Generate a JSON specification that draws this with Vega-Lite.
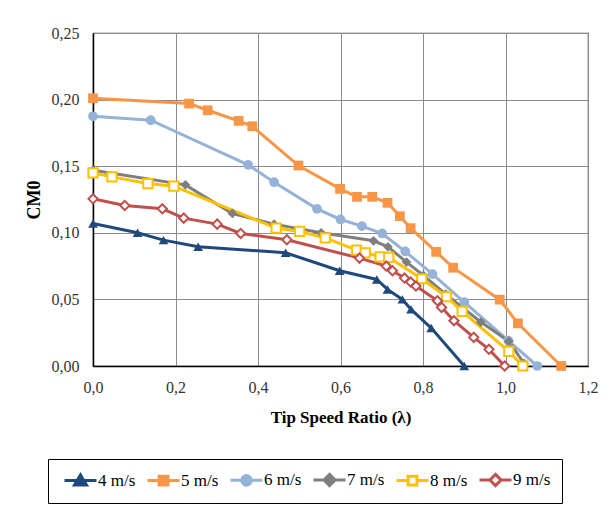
{
  "$schema": "https://vega.github.io/schema/vega-lite/v6.json",
  "width": 495,
  "height": 333,
  "autosize": {"type": "none"},
  "padding": {"left": 93, "top": 33, "right": 22, "bottom": 142},
  "background": "white",
  "config": {
    "view": {"stroke": "#555555", "strokeWidth": 1.2},
    "font": "Liberation Serif",
    "axis": {
      "labelFont": "Liberation Serif",
      "titleFont": "Liberation Serif",
      "labelFontSize": 16,
      "labelColor": "#333333",
      "titleFontSize": 17,
      "titleFontWeight": "bold",
      "titleColor": "#000000",
      "gridColor": "#8c8c8c",
      "gridWidth": 1,
      "ticks": false,
      "labelFlush": false,
      "domainColor": "#000000",
      "domainWidth": 1.5
    },
    "legend": {
      "title": null,
      "orient": "none",
      "legendX": -45,
      "legendY": 426,
      "direction": "horizontal",
      "columns": 6,
      "strokeColor": "#000000",
      "padding": 11,
      "symbolSize": 256,
      "symbolStrokeWidth": 3,
      "symbolOffset": 12,
      "labelFont": "Liberation Serif",
      "labelFontSize": 17,
      "labelColor": "#000000",
      "labelOffset": 8,
      "columnPadding": 5
    }
  },
  "resolve": {"scale": {"shape": "independent", "stroke": "independent", "fill": "independent"}},
  "data": {
    "values": [
      {"s": "4 m/s", "x": 0.0, "y": 0.107},
      {"s": "4 m/s", "x": 0.108, "y": 0.1},
      {"s": "4 m/s", "x": 0.171, "y": 0.0945},
      {"s": "4 m/s", "x": 0.255, "y": 0.0895},
      {"s": "4 m/s", "x": 0.467, "y": 0.085},
      {"s": "4 m/s", "x": 0.598, "y": 0.0715},
      {"s": "4 m/s", "x": 0.688, "y": 0.065},
      {"s": "4 m/s", "x": 0.714, "y": 0.0575},
      {"s": "4 m/s", "x": 0.75, "y": 0.05},
      {"s": "4 m/s", "x": 0.771, "y": 0.0425},
      {"s": "4 m/s", "x": 0.82, "y": 0.0285},
      {"s": "4 m/s", "x": 0.9, "y": 0.0},
      {"s": "5 m/s", "x": 0.0, "y": 0.201},
      {"s": "5 m/s", "x": 0.233, "y": 0.197},
      {"s": "5 m/s", "x": 0.278, "y": 0.192},
      {"s": "5 m/s", "x": 0.353, "y": 0.184},
      {"s": "5 m/s", "x": 0.386, "y": 0.18},
      {"s": "5 m/s", "x": 0.498, "y": 0.1505},
      {"s": "5 m/s", "x": 0.599, "y": 0.133},
      {"s": "5 m/s", "x": 0.64, "y": 0.127},
      {"s": "5 m/s", "x": 0.677, "y": 0.127},
      {"s": "5 m/s", "x": 0.714, "y": 0.1225},
      {"s": "5 m/s", "x": 0.744, "y": 0.1125},
      {"s": "5 m/s", "x": 0.77, "y": 0.1035},
      {"s": "5 m/s", "x": 0.832, "y": 0.0857},
      {"s": "5 m/s", "x": 0.873, "y": 0.0738},
      {"s": "5 m/s", "x": 0.986, "y": 0.0498},
      {"s": "5 m/s", "x": 1.03, "y": 0.032},
      {"s": "5 m/s", "x": 1.135, "y": 0.0},
      {"s": "6 m/s", "x": 0.0, "y": 0.1875},
      {"s": "6 m/s", "x": 0.14, "y": 0.1845},
      {"s": "6 m/s", "x": 0.376, "y": 0.151},
      {"s": "6 m/s", "x": 0.439, "y": 0.138},
      {"s": "6 m/s", "x": 0.543, "y": 0.118},
      {"s": "6 m/s", "x": 0.6, "y": 0.11},
      {"s": "6 m/s", "x": 0.652, "y": 0.105},
      {"s": "6 m/s", "x": 0.701, "y": 0.0995},
      {"s": "6 m/s", "x": 0.757, "y": 0.086},
      {"s": "6 m/s", "x": 0.823, "y": 0.069},
      {"s": "6 m/s", "x": 0.9, "y": 0.048},
      {"s": "6 m/s", "x": 1.007, "y": 0.019},
      {"s": "6 m/s", "x": 1.077, "y": 0.0},
      {"s": "7 m/s", "x": 0.0, "y": 0.147},
      {"s": "7 m/s", "x": 0.224, "y": 0.136},
      {"s": "7 m/s", "x": 0.338, "y": 0.1145},
      {"s": "7 m/s", "x": 0.439, "y": 0.1065},
      {"s": "7 m/s", "x": 0.553, "y": 0.1},
      {"s": "7 m/s", "x": 0.68, "y": 0.094},
      {"s": "7 m/s", "x": 0.715, "y": 0.0895},
      {"s": "7 m/s", "x": 0.76, "y": 0.078},
      {"s": "7 m/s", "x": 0.801, "y": 0.068},
      {"s": "7 m/s", "x": 0.855, "y": 0.054},
      {"s": "7 m/s", "x": 0.94, "y": 0.033},
      {"s": "7 m/s", "x": 1.008, "y": 0.0185},
      {"s": "7 m/s", "x": 1.045, "y": 0.002},
      {"s": "8 m/s", "x": 0.0, "y": 0.145},
      {"s": "8 m/s", "x": 0.046, "y": 0.142},
      {"s": "8 m/s", "x": 0.133, "y": 0.137},
      {"s": "8 m/s", "x": 0.196, "y": 0.135},
      {"s": "8 m/s", "x": 0.444, "y": 0.1035},
      {"s": "8 m/s", "x": 0.501, "y": 0.101},
      {"s": "8 m/s", "x": 0.563, "y": 0.0962},
      {"s": "8 m/s", "x": 0.639, "y": 0.087},
      {"s": "8 m/s", "x": 0.66, "y": 0.085},
      {"s": "8 m/s", "x": 0.696, "y": 0.082},
      {"s": "8 m/s", "x": 0.717, "y": 0.0815},
      {"s": "8 m/s", "x": 0.797, "y": 0.0655},
      {"s": "8 m/s", "x": 0.857, "y": 0.052},
      {"s": "8 m/s", "x": 0.895, "y": 0.041},
      {"s": "8 m/s", "x": 1.008, "y": 0.011},
      {"s": "8 m/s", "x": 1.042, "y": 0.0},
      {"s": "9 m/s", "x": 0.0, "y": 0.1255},
      {"s": "9 m/s", "x": 0.077, "y": 0.1205},
      {"s": "9 m/s", "x": 0.168, "y": 0.118},
      {"s": "9 m/s", "x": 0.22, "y": 0.111},
      {"s": "9 m/s", "x": 0.301, "y": 0.1065},
      {"s": "9 m/s", "x": 0.358, "y": 0.0995},
      {"s": "9 m/s", "x": 0.47, "y": 0.0948},
      {"s": "9 m/s", "x": 0.646, "y": 0.081},
      {"s": "9 m/s", "x": 0.711, "y": 0.075},
      {"s": "9 m/s", "x": 0.726, "y": 0.0715},
      {"s": "9 m/s", "x": 0.755, "y": 0.066},
      {"s": "9 m/s", "x": 0.77, "y": 0.063},
      {"s": "9 m/s", "x": 0.783, "y": 0.06},
      {"s": "9 m/s", "x": 0.835, "y": 0.049},
      {"s": "9 m/s", "x": 0.845, "y": 0.044},
      {"s": "9 m/s", "x": 0.875, "y": 0.034},
      {"s": "9 m/s", "x": 0.923, "y": 0.0215},
      {"s": "9 m/s", "x": 0.96, "y": 0.0125},
      {"s": "9 m/s", "x": 0.998, "y": 0.0}
    ]
  },
  "encoding": {
    "x": {
      "field": "x", "type": "quantitative",
      "scale": {"domain": [0, 1.2], "nice": false},
      "axis": {
        "values": [0, 0.2, 0.4, 0.6, 0.8, 1.0, 1.2],
        "labelExpr": "replace(format(datum.value,'.1f'),'.',',')",
        "labelFont": "Liberation Serif",
        "labelPadding": 13,
        "title": "Tip Speed Ratio (λ)",
        "titlePadding": 14
      }
    },
    "y": {
      "field": "y", "type": "quantitative",
      "scale": {"domain": [0, 0.25], "nice": false},
      "axis": {
        "values": [0, 0.05, 0.1, 0.15, 0.2, 0.25],
        "labelExpr": "replace(format(datum.value,'.2f'),'.',',')",
        "labelFont": "Liberation Serif",
        "labelPadding": 14,
        "title": "CM0",
        "titleFontSize": 18,
        "titlePadding": 8
      }
    }
  },
  "layer": [
    {
      "mark": {"type": "line", "strokeWidth": 3},
      "encoding": {
        "color": {
          "field": "s", "type": "nominal",
          "scale": {
            "domain": ["4 m/s", "5 m/s", "6 m/s", "7 m/s", "8 m/s", "9 m/s"],
            "range": ["#1F497D", "#F79646", "#95B3D7", "#7F7F7F", "#FFC000", "#C0504D"]
          },
          "legend": null
        }
      }
    },
    {
      "transform": [{"filter": "datum.s!=='8 m/s' && datum.s!=='9 m/s'"}],
      "mark": {"type": "point", "filled": true, "opacity": 1, "size": 95},
      "encoding": {
        "color": {"field": "s", "type": "nominal", "legend": null},
        "shape": {
          "field": "s", "type": "nominal",
          "scale": {
            "domain": ["4 m/s", "5 m/s", "6 m/s", "7 m/s"],
            "range": ["triangle-up", "square", "circle", "diamond"]
          },
          "legend": null
        }
      }
    },
    {
      "transform": [{"filter": "datum.s==='8 m/s' || datum.s==='9 m/s'"}],
      "mark": {"type": "point", "filled": false, "fill": "#ffffff", "fillOpacity": 1, "opacity": 1, "size": 85, "strokeWidth": 2},
      "encoding": {
        "color": {"field": "s", "type": "nominal", "legend": null},
        "shape": {
          "field": "s", "type": "nominal",
          "scale": {"domain": ["8 m/s", "9 m/s"], "range": ["square", "diamond"]},
          "legend": null
        }
      }
    },
    {
      "transform": [{"filter": "false"}],
      "mark": {"type": "point", "opacity": 1},
      "encoding": {
        "stroke": {
          "field": "s", "type": "nominal",
          "scale": {
            "domain": ["4 m/s", "5 m/s", "6 m/s", "7 m/s", "8 m/s", "9 m/s"],
            "range": ["#1F497D", "#F79646", "#95B3D7", "#7F7F7F", "#FFC000", "#C0504D"]
          },
          "legend": {"title": null}
        },
        "fill": {
          "field": "s", "type": "nominal",
          "scale": {
            "domain": ["4 m/s", "5 m/s", "6 m/s", "7 m/s", "8 m/s", "9 m/s"],
            "range": ["#1F497D", "#F79646", "#95B3D7", "#7F7F7F", "#FFFFFF", "#FFFFFF"]
          },
          "legend": {"title": null}
        },
        "shape": {
          "field": "s", "type": "nominal",
          "scale": {
            "domain": ["4 m/s", "5 m/s", "6 m/s", "7 m/s", "8 m/s", "9 m/s"],
            "range": [
              "M-2,0H2M0,-0.7L0.75,0.55H-0.75Z",
              "M-2,0H2M-0.55,-0.55H0.55V0.55H-0.55Z",
              "M-2,0H2M-0.6,0A0.6,0.6 0 1,0 0.6,0A0.6,0.6 0 1,0 -0.6,0Z",
              "M-2,0H2M0,-0.7L0.7,0L0,0.7L-0.7,0Z",
              "M-2,0H-0.55M0.55,0H2M-0.55,-0.55H0.55V0.55H-0.55Z",
              "M-2,0H-0.7M0.7,0H2M0,-0.7L0.7,0L0,0.7L-0.7,0Z"
            ]
          },
          "legend": {"title": null}
        }
      }
    }
  ]
}
